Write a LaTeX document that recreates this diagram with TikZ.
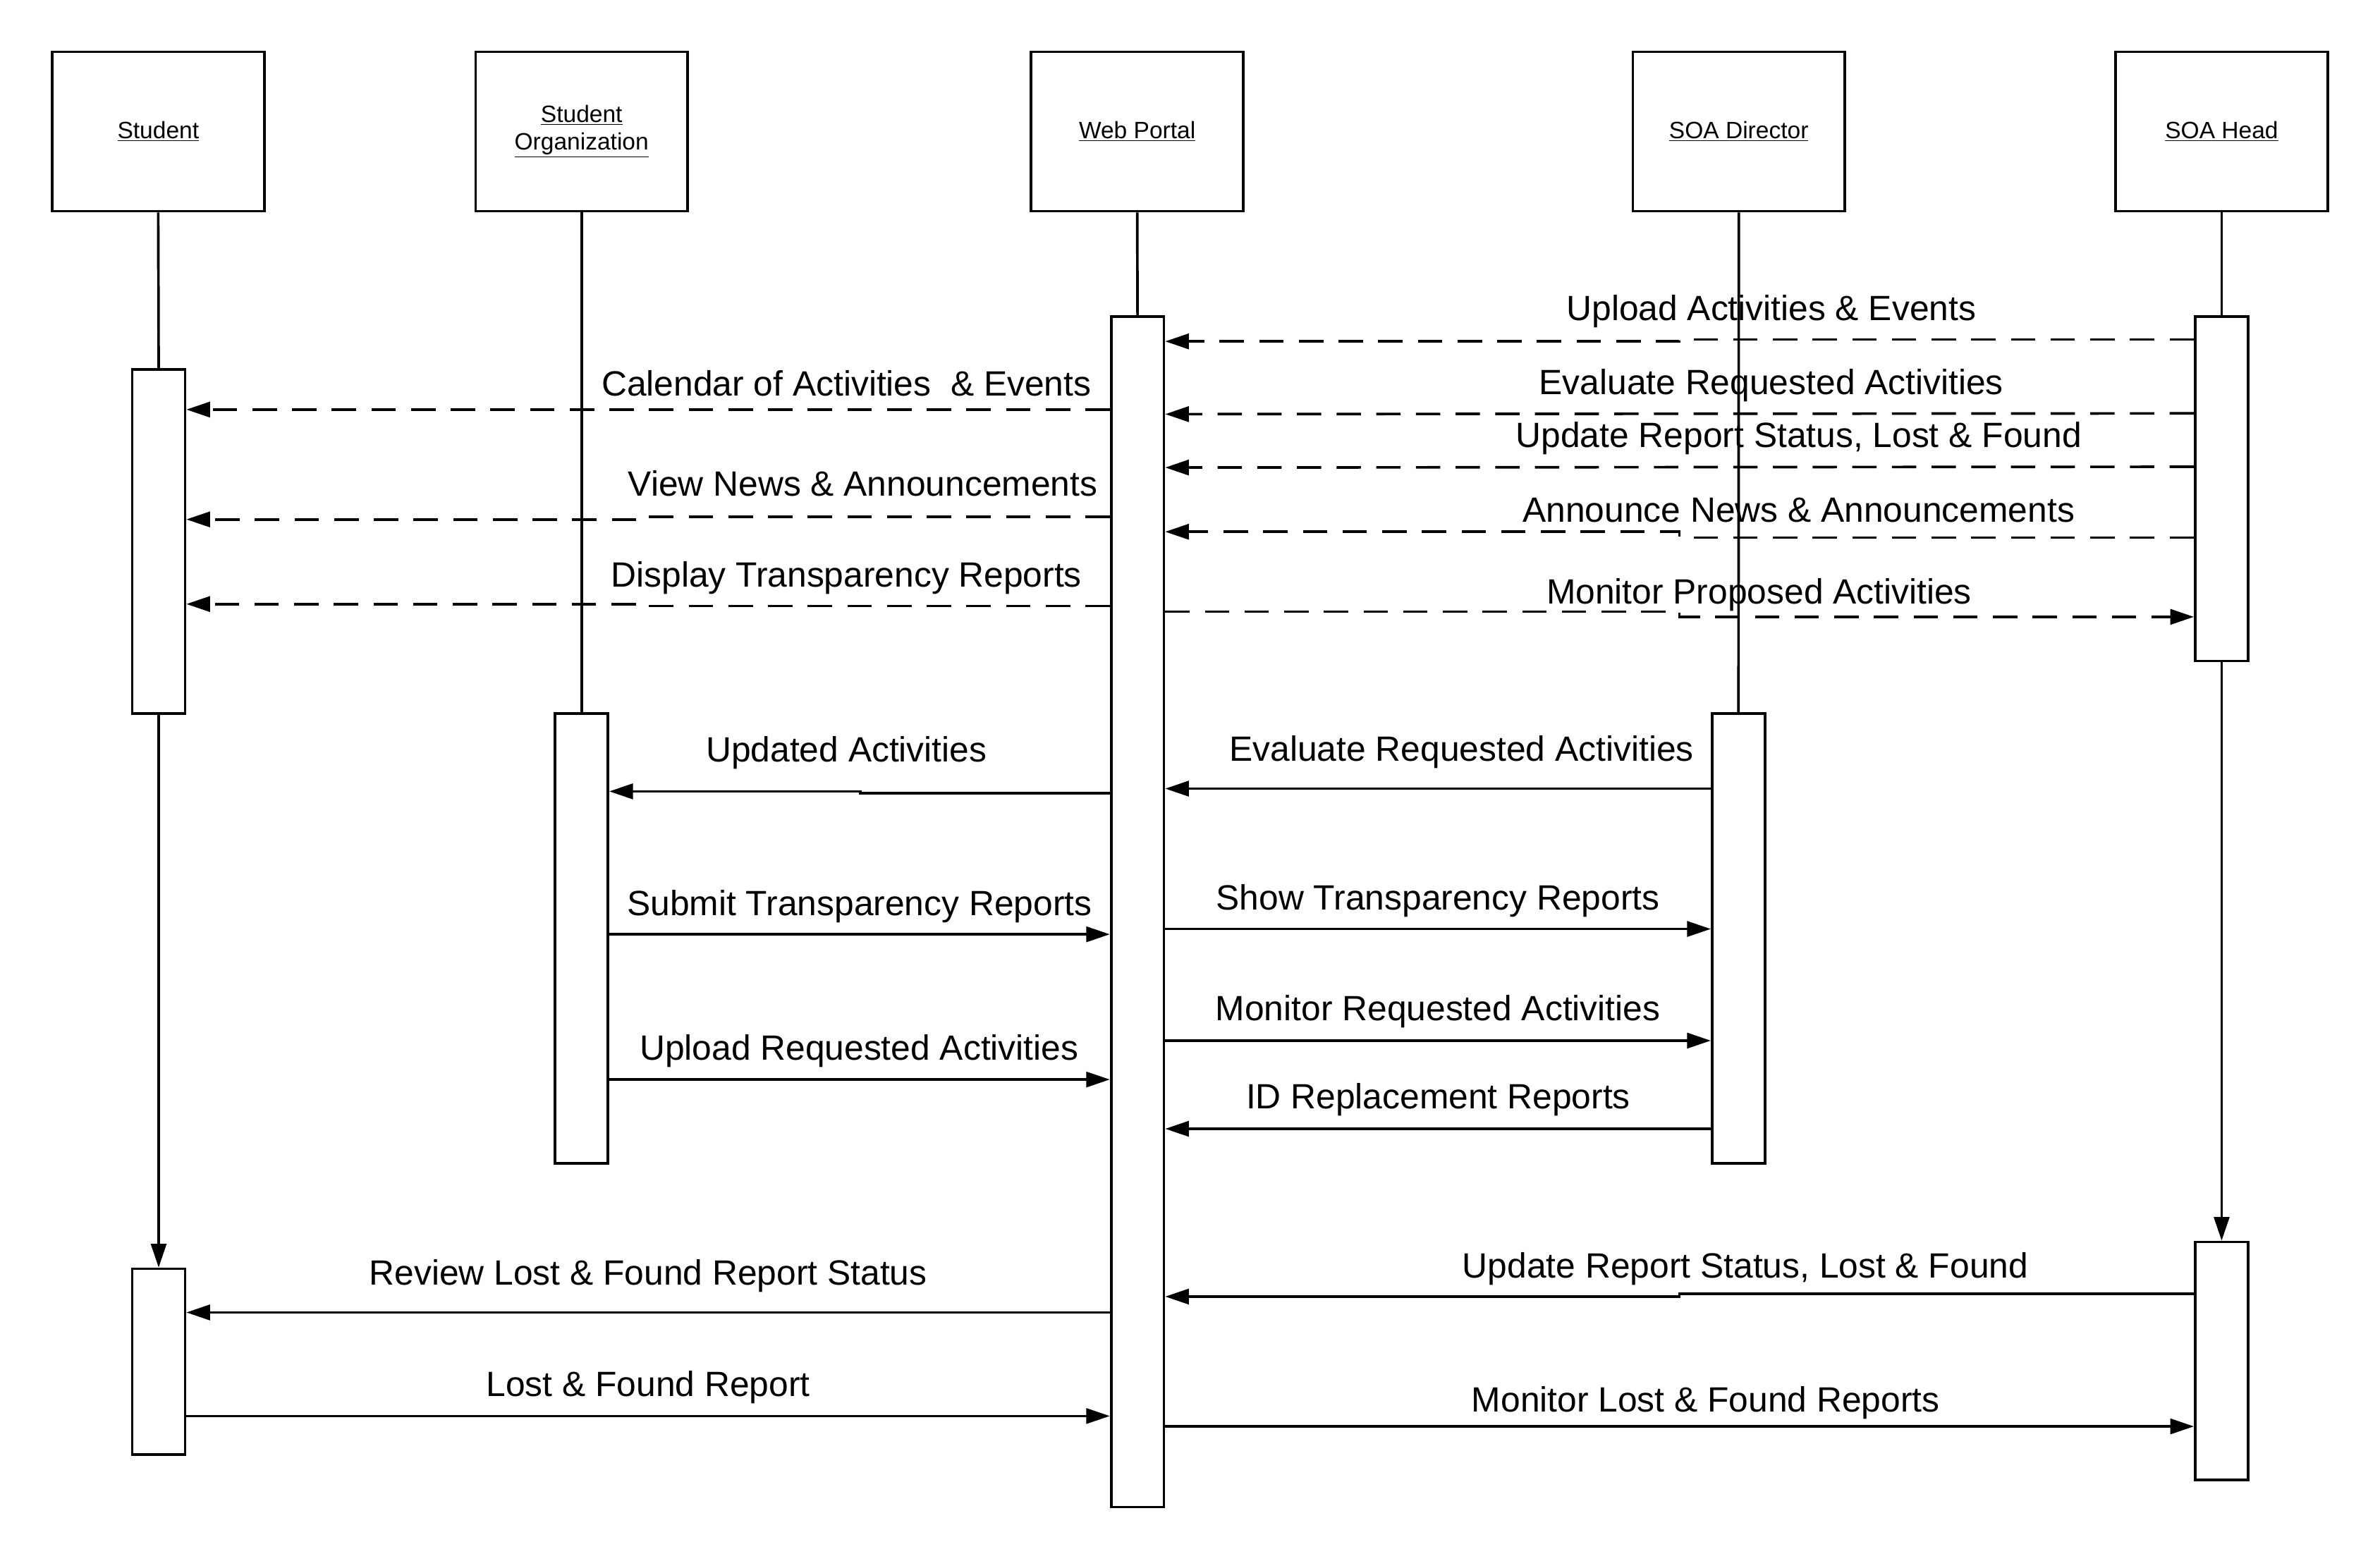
\documentclass[tikz,border=0pt]{standalone}
\usepackage{fontspec}
\setmainfont{Liberation Sans}
\usetikzlibrary{arrows.meta}

\begin{document}
\begin{tikzpicture}[x=1pt, y=-1pt, line width=1.7pt]
        % Define styles
    \tikzset{
        actor/.style={rectangle, draw, minimum width=139pt, minimum height=104.5pt, inner sep=0pt, align=center, font=\fontsize{15.5}{18.2}\selectfont},
        bar/.style={rectangle, draw, fill=white, minimum width=34.6pt, inner sep=0pt},
        arrow/.style={-{Triangle[length=15.5pt, width=10pt]}},
        dasharrow/.style={arrow, dash pattern=on 16pt off 10pt},
        msgtext/.style={anchor=base, inner sep=0pt, font=\fontsize{23}{27}\selectfont},
    }
    \useasboundingbox (0,0) rectangle (1560,1022.9);

    % Actors
    \node[actor] (student) at (103.7,86.25) {\underline{Student}};
    \node[actor] (org) at (381.2,86.25) {\underline{Student}\\\underline{Organization}};
    \node[actor] (portal) at (745.4,86.25) {\underline{Web Portal}};
    \node[actor] (director) at (1139.7,86.25) {\underline{SOA Director}};
    \node[actor] (head) at (1456.2,86.25) {\underline{SOA Head}};

    % Activation bars
    \node[bar, minimum height=225.4pt] (stud1) at (104,355) {};
    \node[bar, minimum height=121.6pt] (stud2) at (104,892.6) {};
    \node[bar, minimum height=295.1pt] (orgbar) at (381.2,615.25) {};
    \node[bar, minimum height=780.5pt] (web) at (745.6,597.75) {};
    \node[bar, minimum height=295.1pt] (dirbar) at (1139.5,615.25) {};
    \node[bar, minimum height=225.8pt] (head1) at (1456.2,320.4) {};
    \node[bar, minimum height=156pt] (head2) at (1456.2,892.2) {};

    % Lifelines
    \draw (student.south) -- (stud1.north);
    \draw[arrow] (stud1.south) -- (stud2.north);
    \draw (org.south) -- (orgbar.north);
    \draw (portal.south) -- (web.north);
    \draw (director.south) -- (dirbar.north);
    \draw (head.south) -- (head1.north);
    \draw[arrow] (head1.south) -- (head2.north);

    % SOA Head and Web Portal
    \node[msgtext] (upload) at (1161,210.2) {Upload Activities \& Events};
    \draw[dasharrow] (head1.west |- 0,222.5) -- (1100.8,222.5) -- (1100.8,223.8) -- (web.east |- 0,223.8);
    \node[msgtext] (evaluate) at (1161,258.8) {Evaluate Requested Activities};
    \draw[dasharrow] (head1.west |- 0,271) -- (web.east |- 0,271.5);
    \node[msgtext] (update) at (1179,293.5) {Update Report Status, Lost \& Found};
    \draw[dasharrow] (head1.west |- 0,306) -- (web.east |- 0,306.5);
    \node[msgtext] (announce) at (1179,342.1) {Announce News \& Announcements};
    \draw[dasharrow] (head1.west |- 0,352.5) -- (1100.8,352.5) -- (1100.8,348.6) -- (web.east |- 0,348.6);
    \node[msgtext] (proposed) at (1153,395.7) {Monitor Proposed Activities};
    \draw[dasharrow] (web.east |- 0,400.9) -- (1100.8,400.9) -- (1100.8,404.4) -- (head1.west |- 0,404.4);

    % Web Portal and Student
    \node[msgtext] (calendar) at (554.8,259.5) {Calendar of Activities~ \& Events};
    \draw[dasharrow] (web.west |- 0,268.5) -- (stud1.east |- 0,268.5);
    \node[msgtext] (news) at (565.6,325.3) {View News \& Announcements};
    \draw[dasharrow] (web.west |- 0,338.9) -- (425,338.9) -- (425,340.5) -- (stud1.east |- 0,340.5);
    \node[msgtext] (display) at (554.8,385) {Display Transparency Reports};
    \draw[dasharrow] (web.west |- 0,397.3) -- (425,397.3) -- (425,396) -- (stud1.east |- 0,396);

    % Web Portal and Student Organization
    \node[msgtext] (updated) at (554.8,499.2) {Updated Activities};
    \draw[arrow] (web.west |- 0,519.9) -- (563.9,519.9) -- (563.9,518.8) -- (orgbar.east |- 0,518.8);
    \node[msgtext] (submit) at (563.4,600) {Submit Transparency Reports};
    \draw[arrow] (orgbar.east |- 0,612.5) -- (web.west |- 0,612.5);
    \node[msgtext] (requested) at (563.1,694.8) {Upload Requested Activities};
    \draw[arrow] (orgbar.east |- 0,707.7) -- (web.west |- 0,707.7);

    % Web Portal and SOA Director
    \node[msgtext] (direval) at (958,498.8) {Evaluate Requested Activities};
    \draw[arrow] (dirbar.west |- 0,517) -- (web.east |- 0,517);
    \node[msgtext] (show) at (942.5,596.4) {Show Transparency Reports};
    \draw[arrow] (web.east |- 0,609) -- (dirbar.west |- 0,609);
    \node[msgtext] (monitor) at (942.5,669) {Monitor Requested Activities};
    \draw[arrow] (web.east |- 0,682.2) -- (dirbar.west |- 0,682.2);
    \node[msgtext] (replace) at (942.7,727) {ID Replacement Reports};
    \draw[arrow] (dirbar.west |- 0,740) -- (web.east |- 0,740);

    % Lost and Found
    \node[msgtext] (review) at (424.8,842.5) {Review Lost \& Found Report Status};
    \draw[arrow] (web.west |- 0,860.4) -- (stud2.east |- 0,860.4);
    \node[msgtext] (lostfound) at (424.8,915.4) {Lost \& Found Report};
    \draw[arrow] (stud2.east |- 0,928.3) -- (web.west |- 0,928.3);
    \node[msgtext] (status) at (1144,837.8) {Update Report Status, Lost \& Found};
    \draw[arrow] (head2.west |- 0,848.2) -- (1100.8,848.2) -- (1100.8,850) -- (web.east |- 0,850);
    \node[msgtext] (monitorlf) at (1118,925.8) {Monitor Lost \& Found Reports};
    \draw[arrow] (web.east |- 0,935.1) -- (head2.west |- 0,935.1);
\end{tikzpicture}
\end{document}
